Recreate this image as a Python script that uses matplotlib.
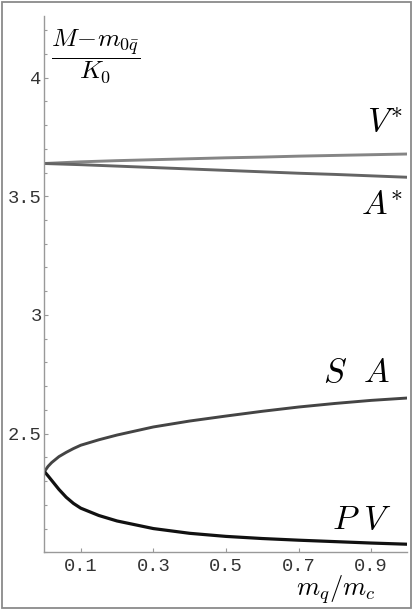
import matplotlib
matplotlib.use("Agg")
from matplotlib import pyplot as plt
from matplotlib.patches import Rectangle
from matplotlib.ticker import MultipleLocator

plt.rcParams['mathtext.fontset'] = 'cm'

# m_q/m_c values for the two lower curves
x_low = [0, 0.01, 0.02, 0.04, 0.06, 0.08, 0.1, 0.15, 0.2, 0.3, 0.4, 0.5,
         0.6, 0.7, 0.8, 0.9, 1.0]
pv = [2.340, 2.322, 2.303, 2.265, 2.232, 2.206, 2.186, 2.155, 2.132, 2.100,
      2.080, 2.067, 2.058, 2.051, 2.045, 2.039, 2.034]
sa = [2.340, 2.362, 2.378, 2.403, 2.421, 2.437, 2.451, 2.474, 2.494, 2.528,
      2.553, 2.574, 2.594, 2.612, 2.627, 2.640, 2.650]

# upper pair, almost straight
x_up = [0, 0.1, 0.2, 0.3, 0.4, 0.5, 0.6, 0.7, 0.8, 0.9, 1.0]
v_star = [3.638, 3.645, 3.650, 3.654, 3.658, 3.662, 3.665, 3.669, 3.672,
          3.675, 3.678]
a_star = [3.638, 3.633, 3.627, 3.621, 3.615, 3.609, 3.603, 3.597, 3.592,
          3.586, 3.580]

xticks = [0.1, 0.3, 0.5, 0.7, 0.9]
xtick_labels = ["0.1", "0.3", "0.5", "0.7", "0.9"]
yticks = [2.5, 3, 3.5, 4]
ytick_labels = ["2.5", "3", "3.5", "4"]

fig = plt.figure(figsize=(4.15, 6.10), dpi=100)
ax = fig.add_axes([0.107, 0.0946, 0.8747, 0.8794])

ax.plot(x_up, v_star, color='#858585', lw=2.1, solid_capstyle='butt')
ax.plot(x_up, a_star, color='#646464', lw=2.1, solid_capstyle='butt')
ax.plot(x_low, sa, color='#444444', lw=2.1, solid_capstyle='butt')
ax.plot(x_low, pv, color='#111111', lw=2.3, solid_capstyle='butt')

ax.set_xlim(0, 1.0)
ax.set_ylim(2.0, 4.26)

ax.set_xticks(xticks)
ax.set_xticklabels(xtick_labels)
ax.set_yticks(yticks)
ax.set_yticklabels(ytick_labels)
ax.yaxis.set_minor_locator(MultipleLocator(0.1))

for s in ['top', 'right']:
    ax.spines[s].set_visible(False)
for s in ['left', 'bottom']:
    ax.spines[s].set_color('#999999')
    ax.spines[s].set_linewidth(1.0)

ax.tick_params(which='both', direction='in', color='#999999', width=0.8)
ax.tick_params(which='major', length=3, labelsize=13.5, labelcolor='#333333')
ax.tick_params(which='minor', length=2.5)
ax.tick_params(axis='x', pad=4)
ax.tick_params(axis='y', pad=2)
for lab in ax.get_xticklabels() + ax.get_yticklabels():
    lab.set_family('Liberation Mono')

# curve labels
ax.text(0.988, 3.77, r'$V^{*}$', fontsize=24.5, ha='right', va='baseline')
ax.text(0.988, 3.42, r'$A^{*}$', fontsize=24.5, ha='right', va='baseline')
ax.text(0.952, 2.717, r'$S\ \ A$', fontsize=24.5, ha='right', va='baseline')
ax.text(0.957, 2.098, r'$P\ V$', fontsize=24.5, ha='right', va='baseline')

ax.text(0.141, 4.089, r'$\dfrac{M\!-\!m_{0\bar{q}}}{K_0}$', fontsize=18.5,
        ha='center', va='center')
ax.text(0.803, -0.08, r'$m_q/m_c$', fontsize=19, ha='center', va='baseline',
        transform=ax.transAxes)

# grey frame around the picture
fig.patches.append(Rectangle((0.004, 0.003), 0.987, 0.993, transform=fig.transFigure,
                             fill=False, edgecolor='#8a8a8a', lw=1.3))

fig.savefig("out.png", dpi=100)
